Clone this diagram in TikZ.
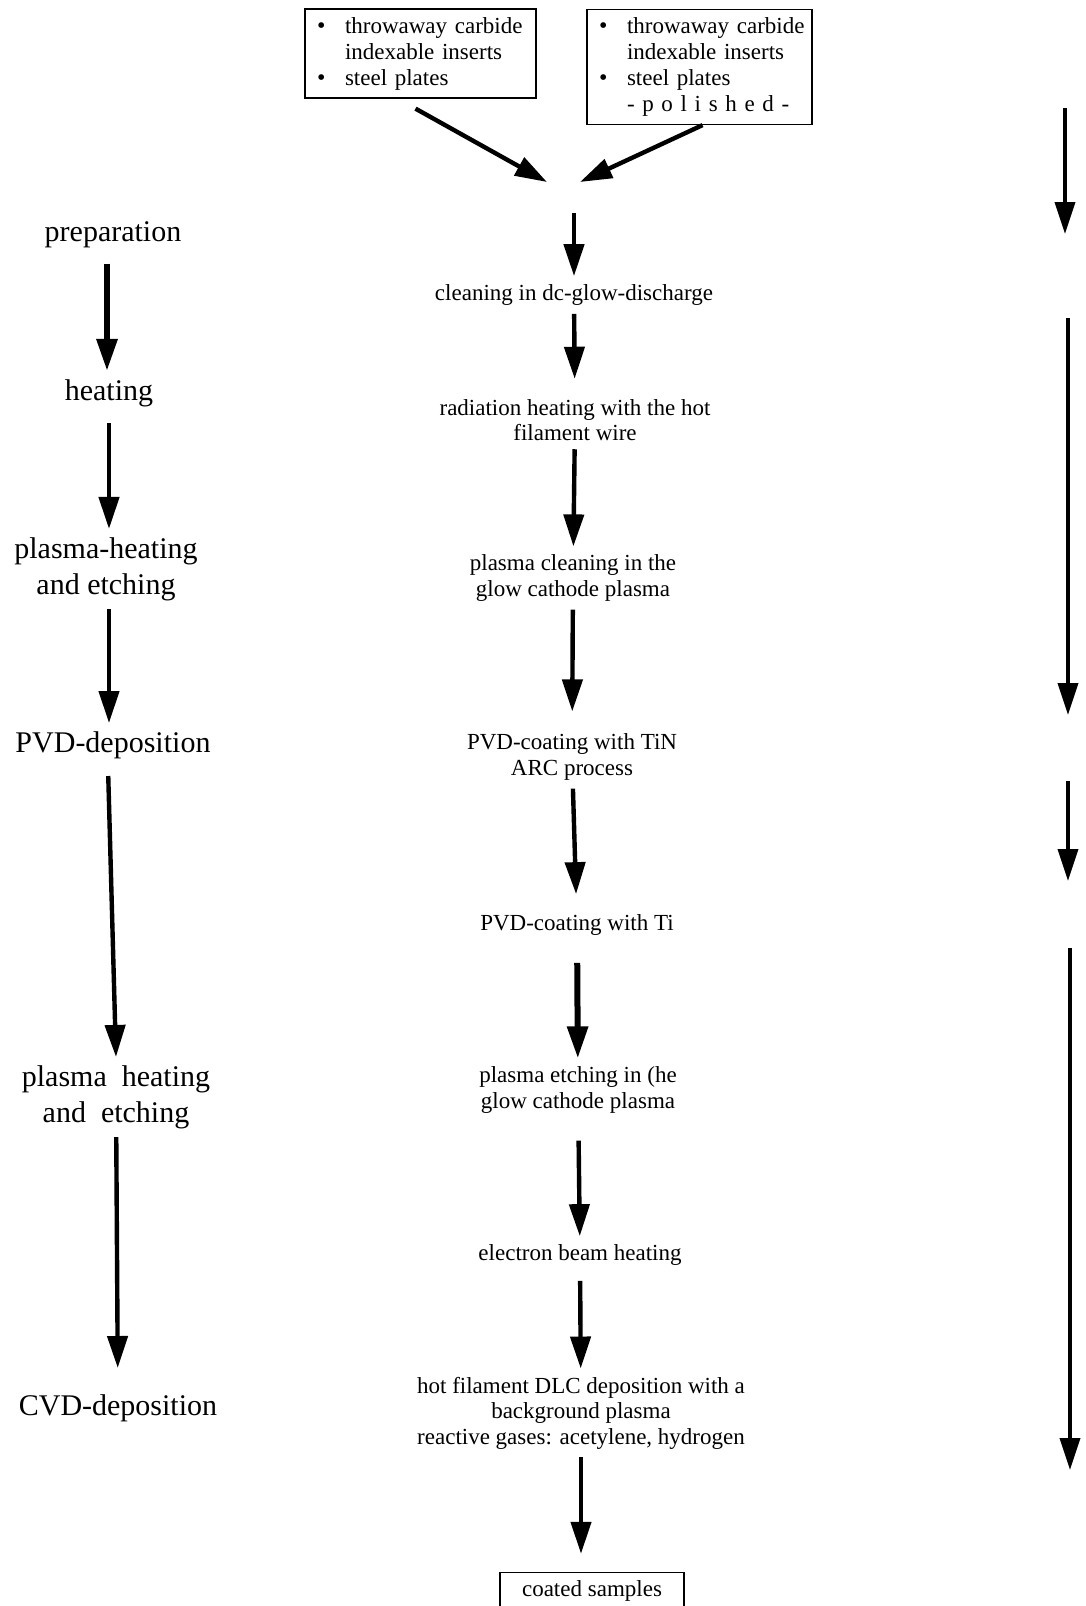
\documentclass[tikz,border=0pt]{standalone}
\usepackage{fontspec}
\setmainfont{Liberation Serif}
\usetikzlibrary{arrows.meta}
\tikzset{
	flow/.style={line width=2.2pt, -{Triangle[length=16pt,width=10pt]}},
	stage/.style={font=\fontsize{15}{18}\selectfont, align=center, inner sep=4pt},
	work/.style={font=\fontsize{11.5}{12.75}\selectfont, align=center, inner sep=4pt},
	samplebox/.style={draw, line width=0.7pt, font=\fontsize{11.5}{13}\selectfont, align=left, inner sep=4pt}
}
\newcommand{\dotline}[1]{\mbox{\hspace*{2pt}\makebox[14pt][l]{\large\textbullet}#1}}
\newcommand{\gapline}[1]{\mbox{\hspace*{16pt}#1}}

\begin{document}
\begin{tikzpicture}[x=0.5pt, y=-0.5pt]
		%%%%% START %%%%%
		\useasboundingbox (0, 0) rectangle (1086, 1606);
		
		% samples
		\node[samplebox, text width=107.5pt, minimum height=43.5pt] (boxL) at (420.5, 53.5) {\dotline{throwaway carbide}\\\gapline{indexable inserts}\\\dotline{steel plates}};
		\node[samplebox, text width=104.5pt, minimum height=57pt] (boxR) at (699.5, 67) {\dotline{throwaway carbide}\\\gapline{indexable inserts}\\\dotline{steel plates}\\\gapline{- p o l i s h e d -}};
		\coordinate (mergeL) at (547, 182);
		\coordinate (mergeR) at (580, 182);
		\coordinate (start) at (574, 213);
		\draw[flow] ([xshift=-2.5pt, yshift=-5pt]boxL.south) -- (mergeL);
		\draw[flow] ([xshift=1.5pt]boxR.south) -- (mergeR);
		
		% left column
		\node[stage] (prep) at (113, 235) {preparation};
		\node[stage] (heat) at (109, 393) {heating};
		\node[stage] (plheat) at (106, 569) {plasma-heating\\and etching};
		\node[stage] (pvd) at (113, 745) {PVD-deposition};
		\node[stage] (plheat2) at (116, 1097) {plasma\ \ heating\\and\ \ etching};
		\node[stage] (cvd) at (118, 1408) {CVD-deposition};
		
		\draw[flow, line width=3pt, shorten <=3.5pt] ([xshift=-3pt]prep.south) -- ([xshift=-1pt]heat.north);
		\draw[flow, shorten <=4pt] (heat.south) -- ([xshift=1.5pt]plheat.north);
		\draw[flow] ([xshift=1.5pt]plheat.south) -- ([xshift=-2pt]pvd.north);
		\draw[flow, shorten <=4.5pt] ([xshift=-2.5pt]pvd.south) -- (plheat2.north);
		\draw[flow, shorten >=9pt] (plheat2) -- (cvd);
		
		% middle column
		\node[work] (clean) at (574, 295) {cleaning in dc-glow-discharge};
		\node[work] (radheat) at (575, 420) {radiation heating with the hot\\filament wire};
		\node[work] (plclean) at (573, 578) {plasma cleaning in the\\glow cathode plasma};
		\node[work] (tin) at (572, 757) {PVD-coating with TiN\\ARC process};
		\node[work] (ti) at (577, 925) {PVD-coating with Ti};
		\node[work] (pletch) at (578, 1090) {plasma etching in (he\\glow cathode plasma};
		\node[work] (ebeam) at (580, 1255) {electron beam heating};
		\node[work] (dlc) at (581, 1413) {hot filament DLC deposition with a\\background plasma\\reactive gases: acetylene, hydrogen};
		\node[work, draw, line width=0.8pt, minimum width=92pt, minimum height=18pt] (coated) at (592, 1591) {coated samples};
		
		\draw[flow] (start) -- (clean);
		\draw[flow, shorten >=6pt] (clean) -- (radheat);
		\draw[flow] (radheat) -- (plclean);
		\draw[flow, shorten >=7pt] (plclean) -- (tin);
		\draw[flow, shorten >=6pt] (tin) -- (ti);
		\draw[flow, line width=3pt, shorten <=9.5pt] (ti) -- (pletch);
		\draw[flow, shorten <=9.5pt] (pletch) -- (ebeam);
		\draw[flow, shorten <=3.5pt] (ebeam) -- (dlc);
		\draw[flow, shorten >=9pt] (dlc.south) -- (dlc.south |- coated.north);
		
		% right column
		\foreach \xa/\ya/\yb [count=\i] in {1065/108/234, 1068/318/715, 1068/781/881, 1070/948/1470} {
			\coordinate (rtop\i) at (\xa, \ya);
			\coordinate (rbot\i) at (\xa, \yb);
			\draw[flow, line width=1.8pt] (rtop\i) -- (rbot\i);
		}
		%%%%% END %%%%%
\end{tikzpicture}
\end{document}
